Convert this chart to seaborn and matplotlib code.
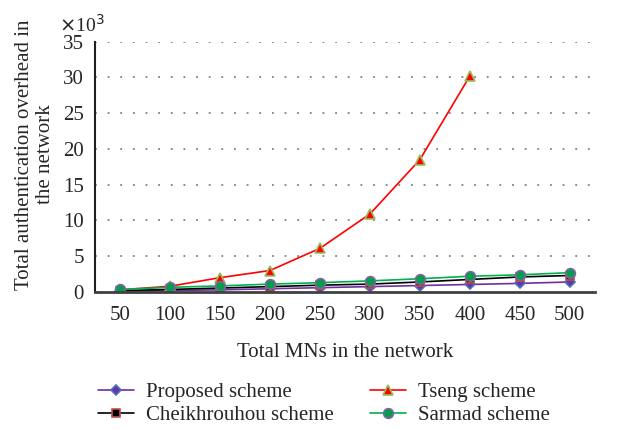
import numpy as np
import pandas as pd
import matplotlib
matplotlib.use('Agg')
import matplotlib.pyplot as plt
import seaborn as sns

# values (x10^3)
mns = [50, 100, 150, 200, 250, 300, 350, 400, 450, 500]
proposed = [0.1, 0.2, 0.3, 0.45, 0.6, 0.75, 0.9, 1.05, 1.2, 1.4]
cheikhrouhou = [0.2, 0.35, 0.55, 0.75, 0.95, 1.1, 1.4, 1.75, 2.1, 2.3]
tseng = [0.3, 0.8, 2.0, 3.0, 6.1, 10.9, 18.5, 30.2]
sarmad = [0.35, 0.65, 0.85, 1.1, 1.3, 1.55, 1.85, 2.2, 2.4, 2.7]

sns.set_style('white')
plt.rcParams['font.family'] = ['Liberation Serif', 'DejaVu Serif']
fs = 15

fig = plt.figure(figsize=(6.31, 4.30), dpi=100)
ax = fig.add_axes([0.1506, 0.321, 0.792, 0.582])

series = [
    ('Proposed scheme', mns, proposed, 'D', '#7030A0', '#7030A0', '#4472C4', 5.5),
    ('Cheikhrouhou scheme', mns, cheikhrouhou, 's', '#000000', '#000000', '#C0504D', 6),
    ('Tseng scheme', mns[:len(tseng)], tseng, '^', '#FF0000', '#FF0000', '#9BBB59', 7),
    ('Sarmad scheme', mns, sarmad, 'o', '#00B050', '#00A04A', '#8064A2', 7),
]

for name, xs, ys, mk, lc, fc, ec, ms in series:
    df = pd.DataFrame({'x': xs, 'y': ys})
    sns.lineplot(data=df, x='x', y='y', ax=ax, color=lc, marker=mk,
                 markerfacecolor=fc, markeredgecolor=ec, markeredgewidth=1.2,
                 markersize=ms, linewidth=1.2, label=name)

ax.set_xlim(25, 525)
ax.set_ylim(0, 35)
ax.set_yticks(np.arange(0, 36, 5))
ax.set_xticks(np.arange(25, 526, 50))
ax.set_xticklabels([])
ax.set_xticks(mns, minor=True)
ax.set_xticklabels([str(v) for v in mns], minor=True)
ax.tick_params(axis='x', which='minor', length=0, labelsize=fs, pad=10)
ax.tick_params(axis='x', which='major', length=5, width=1.2, direction='out', color='#404040')
ax.tick_params(axis='y', length=5, width=1.2, direction='out', labelsize=fs, color='#404040', pad=3)

for v in range(5, 36, 5):
    ax.axhline(v, color='#808080', linestyle=(0, (1, 6)), linewidth=1.3, zorder=0)

for s in ['top', 'right']:
    ax.spines[s].set_visible(False)
ax.spines['left'].set_color('#202020')
ax.spines['left'].set_linewidth(1.5)
ax.spines['bottom'].set_color('#404040')
ax.spines['bottom'].set_linewidth(2)

ax.set_xlabel('Total MNs in the network', fontsize=fs, labelpad=13)
ax.set_ylabel('Total authentication overhead in\nthe network', fontsize=fs, labelpad=6,
              linespacing=1.1, y=0.55)
ax.text(-0.072, 1.025, r'$\times$10$^3$', transform=ax.transAxes, fontsize=14, ha='left', va='bottom')

ax.legend(loc='upper left', bbox_to_anchor=(-0.01, -0.33), ncol=2, frameon=False,
          fontsize=fs, handlelength=1.7, columnspacing=1.75, labelspacing=0.15, handletextpad=0.6,
          borderaxespad=0)

fig.savefig('out.png', dpi=100)
